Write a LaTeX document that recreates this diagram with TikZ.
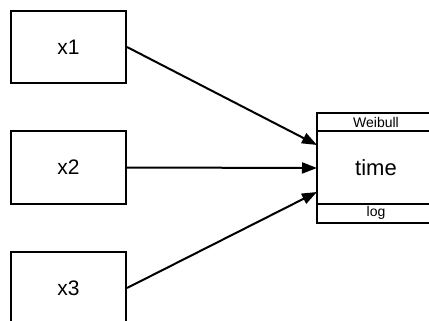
\documentclass[tikz,border=0pt]{standalone}
\usepackage{fontspec}
\setmainfont{Liberation Sans}
\usetikzlibrary{arrows.meta}
\begin{document}
\begin{tikzpicture}[x=1pt,y=-1pt,line width=2pt,
  inbox/.style={draw,rectangle,minimum width=115pt,minimum height=72pt,inner sep=0pt,font=\fontsize{21}{21}\selectfont},
  outbox/.style={draw,rectangle,minimum width=118pt,minimum height=110pt,inner sep=0pt,font=\fontsize{22}{22}\selectfont},
  lbl/.style={inner sep=0pt,font=\fontsize{14}{14}\selectfont},
  arr/.style={-{Triangle[length=15pt,width=11pt]}}]
\useasboundingbox (0,0) rectangle (429,321);
\clip (0,0) rectangle (429,321);
\node[inbox] (x1) at (68.5,47) {x1};
\node[inbox] (x2) at (68.5,167.5) {x2};
\node[inbox] (x3) at (68.5,288) {x3};
\node[outbox] (time) at (376,168) {time};
\coordinate (s1) at (317,131);
\coordinate (s2) at (317,204);
\draw (s1) -- (time.east |- s1);
\draw (s2) -- (time.east |- s2);
\node[lbl] (w) at (376,122.5) {Weibull};
\node[lbl] (lg) at (376,213) {log};
\coordinate (t1) at (317,145);
\coordinate (t2) at (317,168);
\coordinate (t3) at (317,192);
\draw[arr] (x1.east) -- (t1);
\draw[arr] (x2.east) -- (t2);
\draw[arr] (x3.east) -- (t3);
\end{tikzpicture}
\end{document}
